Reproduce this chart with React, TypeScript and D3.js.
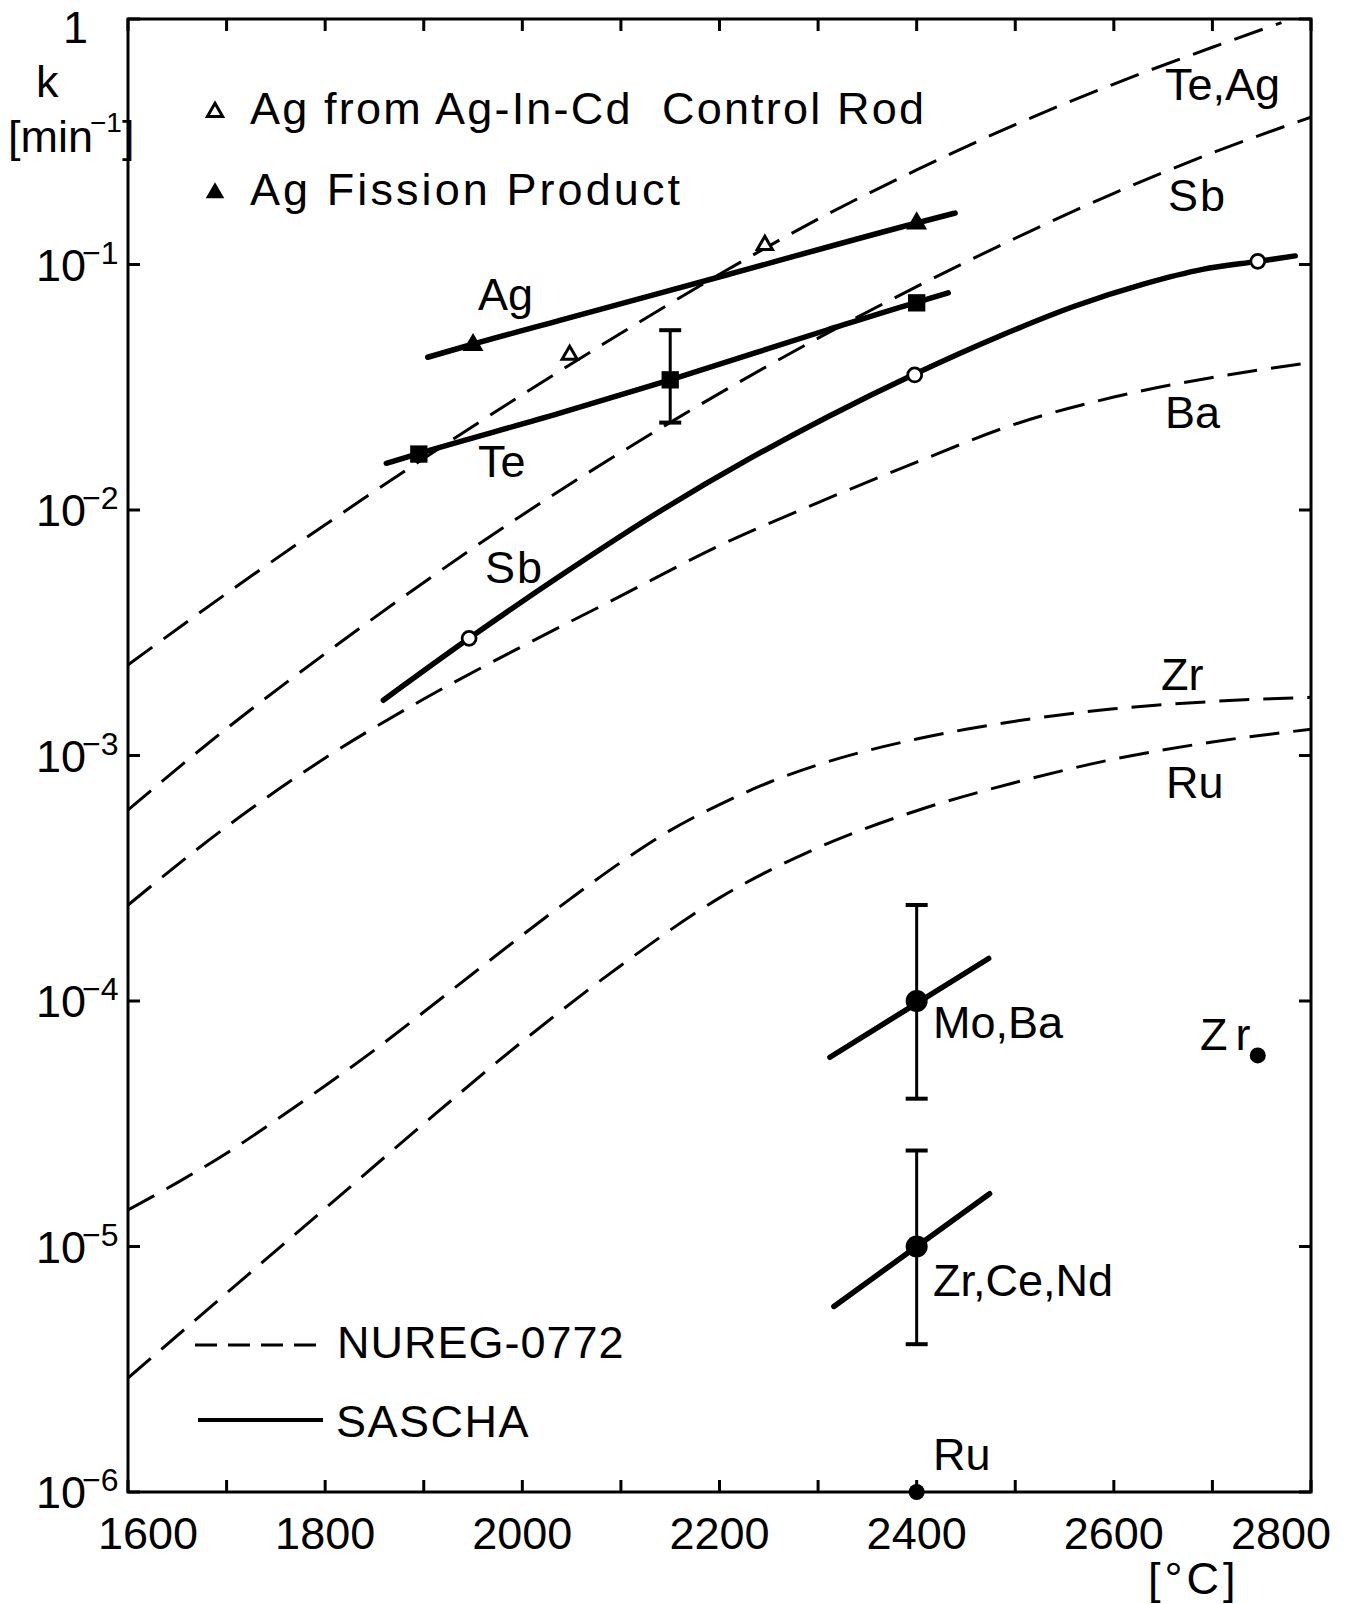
import React from 'react';
import * as d3 from 'd3';

type P = [number, number];

// ---- NUREG-0772 (dashed) curves: [temperature °C, k min^-1]
const nuregTeAg: P[] = [
  [1600, 2.339e-3], [1700, 4.571e-3], [1800, 8.71e-3], [1900, 0.01622], [2000, 0.02951],
  [2100, 0.05248], [2200, 0.0912], [2300, 0.1531], [2400, 0.2427], [2500, 0.3715],
  [2600, 0.5433], [2700, 0.7674], [2770, 0.9661],
];
const nuregSb: P[] = [
  [1600, 5.998e-4], [1700, 1.288e-3], [1800, 2.6e-3], [1900, 5.07e-3], [2000, 9.55e-3],
  [2100, 0.01718], [2200, 0.02985], [2300, 0.05012], [2400, 0.08128], [2500, 0.1279],
  [2600, 0.195], [2700, 0.2851], [2800, 0.3981],
];
const nuregBa: P[] = [
  [1600, 2.46e-4], [1700, 5.129e-4], [1800, 9.772e-4], [1900, 1.698e-3], [2000, 2.786e-3],
  [2100, 4.467e-3], [2200, 7.161e-3], [2300, 0.01072], [2400, 0.01567], [2500, 0.02239],
  [2600, 0.02884], [2700, 0.03467], [2790, 0.03936],
];
const nuregZr: P[] = [
  [1600, 1.409e-5], [1650, 1.82e-5], [1700, 2.399e-5], [1750, 3.273e-5], [1800, 4.519e-5],
  [1850, 6.31e-5], [1900, 9.016e-5], [1950, 1.294e-4], [2000, 1.854e-4], [2050, 2.63e-4],
  [2100, 3.673e-4], [2150, 4.955e-4], [2200, 6.31e-4], [2250, 7.762e-4], [2300, 9.162e-4],
  [2350, 1.047e-3], [2400, 1.167e-3], [2450, 1.279e-3], [2500, 1.38e-3], [2600, 1.549e-3],
  [2700, 1.66e-3], [2800, 1.726e-3],
];
const nuregRu: P[] = [
  [1600, 2.911e-6], [1700, 6.457e-6], [1800, 1.429e-5], [1900, 3.162e-5], [2000, 6.839e-5],
  [2100, 1.396e-4], [2200, 2.63e-4], [2300, 4.217e-4], [2400, 5.957e-4], [2500, 7.762e-4],
  [2600, 9.661e-4], [2700, 1.135e-3], [2800, 1.279e-3],
];

// ---- SASCHA (solid) curves
const saschaAg: P[] = [[1904, 0.0419], [1947, 0.047], [2038, 0.0592], [2207, 0.0906], [2400, 0.1476], [2439, 0.162]];
const saschaTe: P[] = [[1862, 0.0155], [1893, 0.0169], [2038, 0.0248], [2150, 0.0339], [2309, 0.0541], [2398, 0.0698], [2432, 0.0766]];
const saschaSb: P[] = [
  [1859, 1.679e-3], [1946, 3.0e-3], [2040, 5.445e-3], [2140, 9.908e-3], [2230, 0.01614], [2310, 0.02399],
  [2396, 0.03548], [2485, 0.05129], [2560, 0.06761], [2630, 0.08318], [2690, 0.0955], [2746, 0.103], [2784, 0.1084],
];
const saschaMoBa: P[] = [[2312, 5.9e-5], [2473, 1.49e-4]];
const saschaZrCeNd: P[] = [[2316, 5.7e-6], [2474, 1.64e-5]];

// ---- measured points
const agFission: P[] = [[1950, 0.047], [2400, 0.147]];
const agControlRod: P[] = [[2048, 0.0428], [2246, 0.12]];
const teSquares: P[] = [[1895, 0.0169], [2150, 0.0339], [2400, 0.0698]];
const sbCircles: P[] = [[1946, 0.003], [2398, 0.0355], [2746, 0.103]];
const bigDots: P[] = [[2400, 1e-4], [2400, 1e-5]];
const smallDots: P[] = [[2746, 6e-5], [2400, 1e-6]];
// error bars: [T, low, high]
const errorBars: [number, number, number][] = [
  [2150, 0.0227, 0.054],
  [2400, 4.0e-5, 2.46e-4],
  [2400, 4.0e-6, 2.46e-5],
];

// ---- axes
const xTicks = d3.range(1600, 2801, 100);
const xLabels = [1600, 1800, 2000, 2200, 2400, 2600, 2800];
const yDecades = [1e-6, 1e-5, 1e-4, 1e-3, 1e-2, 1e-1, 1];
const yExponents = ['−6', '−5', '−4', '−3', '−2', '−1'];

const FONT = '"Liberation Sans", Arial, "DejaVu Sans", sans-serif';
const X0 = 128, X1 = 1311, Y0 = 19, Y1 = 1492;

export default function App() {
  const x = d3.scaleLinear().domain([1600, 2800]).range([X0, X1]);
  const y = d3.scaleLog().domain([1e-6, 1]).range([Y1, Y0]);
  const line = d3.line<P>().x(d => x(d[0])).y(d => y(d[1])).curve(d3.curveMonotoneX);
  const tri = d3.symbol().type(d3.symbolTriangle);
  const sq = d3.symbol().type(d3.symbolSquare).size(300)();

  const dashed = [nuregTeAg, nuregSb, nuregBa, nuregZr, nuregRu];
  const solid = [saschaAg, saschaTe, saschaSb, saschaMoBa, saschaZrCeNd];
  const txt = { fontFamily: FONT, fontSize: 45, fill: '#000' } as const;

  return (
    <svg width={1348} height={1604} style={{ position: 'absolute', left: 0, top: 0, background: '#fff' }}>
      <defs>
        <clipPath id="plot"><rect x={X0} y={Y0} width={X1 - X0} height={Y1 - Y0} /></clipPath>
      </defs>
      <rect x={0} y={0} width={1348} height={1604} fill="#fff" />
      {/* frame */}
      <rect x={X0} y={Y0} width={X1 - X0} height={Y1 - Y0} fill="none" stroke="#000" strokeWidth={3} />
      {xTicks.map(t => (
        <g key={'xt' + t}>
          <line x1={x(t)} x2={x(t)} y1={Y1} y2={Y1 - 12} stroke="#000" strokeWidth={3} />
          <line x1={x(t)} x2={x(t)} y1={Y0} y2={Y0 + 12} stroke="#000" strokeWidth={3} />
        </g>
      ))}
      {yDecades.map(v => (
        <g key={'yt' + v}>
          <line x1={X0} x2={X0 + 12} y1={y(v)} y2={y(v)} stroke="#000" strokeWidth={3} />
          <line x1={X1} x2={X1 - 12} y1={y(v)} y2={y(v)} stroke="#000" strokeWidth={3} />
        </g>
      ))}
      {/* x labels */}
      {xLabels.map(t => (
        <text key={'xl' + t} {...txt} x={x(t) + (t === 1600 ? 20 : t === 2800 ? -30 : 0)} y={1549} textAnchor="middle">{t}</text>
      ))}
      <text {...txt} x={1148} y={1594} letterSpacing={4}>[°C]</text>
      {/* y labels */}
      {yDecades.slice(0, 6).map((v, i) => (
        <text key={'yl' + v} {...txt} x={36} y={y(v) + 16}>
          10<tspan dx={-4} dy={-17} fontSize={32}>{yExponents[i]}</tspan>
        </text>
      ))}
      <text {...txt} x={88} y={43} textAnchor="end">1</text>
      <text {...txt} x={36} y={97}>k</text>
      <text {...txt} x={8} y={152}>[min<tspan dx={-3} dy={-20} fontSize={28}>−1</tspan><tspan dy={20}>]</tspan></text>

      {/* curves */}
      <g clipPath="url(#plot)" fill="none" stroke="#000">
        {dashed.map((d, i) => (
          <path key={'d' + i} d={line(d) || ''} strokeWidth={3} strokeDasharray="30 14" />
        ))}
        {solid.map((d, i) => (
          <path key={'s' + i} d={line(d) || ''} strokeWidth={5.5} strokeLinecap="round" />
        ))}
      </g>

      {/* error bars */}
      {errorBars.map(([t, lo, hi], i) => (
        <g key={'eb' + i} stroke="#000" strokeWidth={3}>
          <line x1={x(t)} x2={x(t)} y1={y(lo)} y2={y(hi)} />
          <line x1={x(t) - 11} x2={x(t) + 11} y1={y(lo)} y2={y(lo)} strokeWidth={4} />
          <line x1={x(t) - 11} x2={x(t) + 11} y1={y(hi)} y2={y(hi)} strokeWidth={4} />
        </g>
      ))}

      {/* markers */}
      {agFission.map((d, i) => (
        <path key={'af' + i} d={tri.size(190)() || ''} transform={`translate(${x(d[0])},${y(d[1])})`} fill="#000" />
      ))}
      {agControlRod.map((d, i) => (
        <path key={'ac' + i} d={tri.size(100)() || ''} transform={`translate(${x(d[0])},${y(d[1])})`} fill="#fff" stroke="#000" strokeWidth={3} />
      ))}
      {teSquares.map((d, i) => (
        <path key={'ts' + i} d={sq || ''} transform={`translate(${x(d[0])},${y(d[1])})`} fill="#000" />
      ))}
      {sbCircles.map((d, i) => (
        <circle key={'sc' + i} cx={x(d[0])} cy={y(d[1])} r={7} fill="#fff" stroke="#000" strokeWidth={2.8} />
      ))}
      {bigDots.map((d, i) => (
        <circle key={'bd' + i} cx={x(d[0])} cy={y(d[1])} r={11} fill="#000" />
      ))}
      {smallDots.map((d, i) => (
        <circle key={'sd' + i} cx={x(d[0])} cy={y(d[1])} r={8} fill="#000" />
      ))}

      {/* curve labels */}
      <text {...txt} x={478} y={310}>Ag</text>
      <text {...txt} x={478} y={477}>Te</text>
      <text {...txt} x={485} y={583} letterSpacing={2}>Sb</text>
      <text {...txt} x={1165} y={100}>Te,Ag</text>
      <text {...txt} x={1168} y={211} letterSpacing={2}>Sb</text>
      <text {...txt} x={1165} y={428}>Ba</text>
      <text {...txt} x={1161} y={690}>Zr</text>
      <text {...txt} x={1166} y={798}>Ru</text>
      <text {...txt} x={933} y={1038}>Mo,Ba</text>
      <text {...txt} x={1200} y={1050} letterSpacing={8}>Zr</text>
      <text {...txt} x={933} y={1296}>Zr,Ce,Nd</text>
      <text {...txt} x={933} y={1470}>Ru</text>

      {/* legend top */}
      <path d={tri.size(100)() || ''} transform="translate(215,112)" fill="#fff" stroke="#000" strokeWidth={3} />
      <text {...txt} x={250} y={124} textLength={674} lengthAdjust="spacing" style={{ whiteSpace: 'pre' }}>Ag from Ag-In-Cd  Control Rod</text>
      <path d={tri.size(150)() || ''} transform="translate(215,193)" fill="#000" />
      <text {...txt} x={250} y={205} textLength={430} lengthAdjust="spacing">Ag Fission Product</text>

      {/* legend bottom */}
      <line x1={195} x2={323} y1={1345} y2={1345} stroke="#000" strokeWidth={3} strokeDasharray="22 11" />
      <text {...txt} x={337} y={1358} letterSpacing={1}>NUREG-0772</text>
      <line x1={198} x2={323} y1={1420} y2={1420} stroke="#000" strokeWidth={4} />
      <text {...txt} x={336} y={1437} letterSpacing={1.5}>SASCHA</text>
    </svg>
  );
}
